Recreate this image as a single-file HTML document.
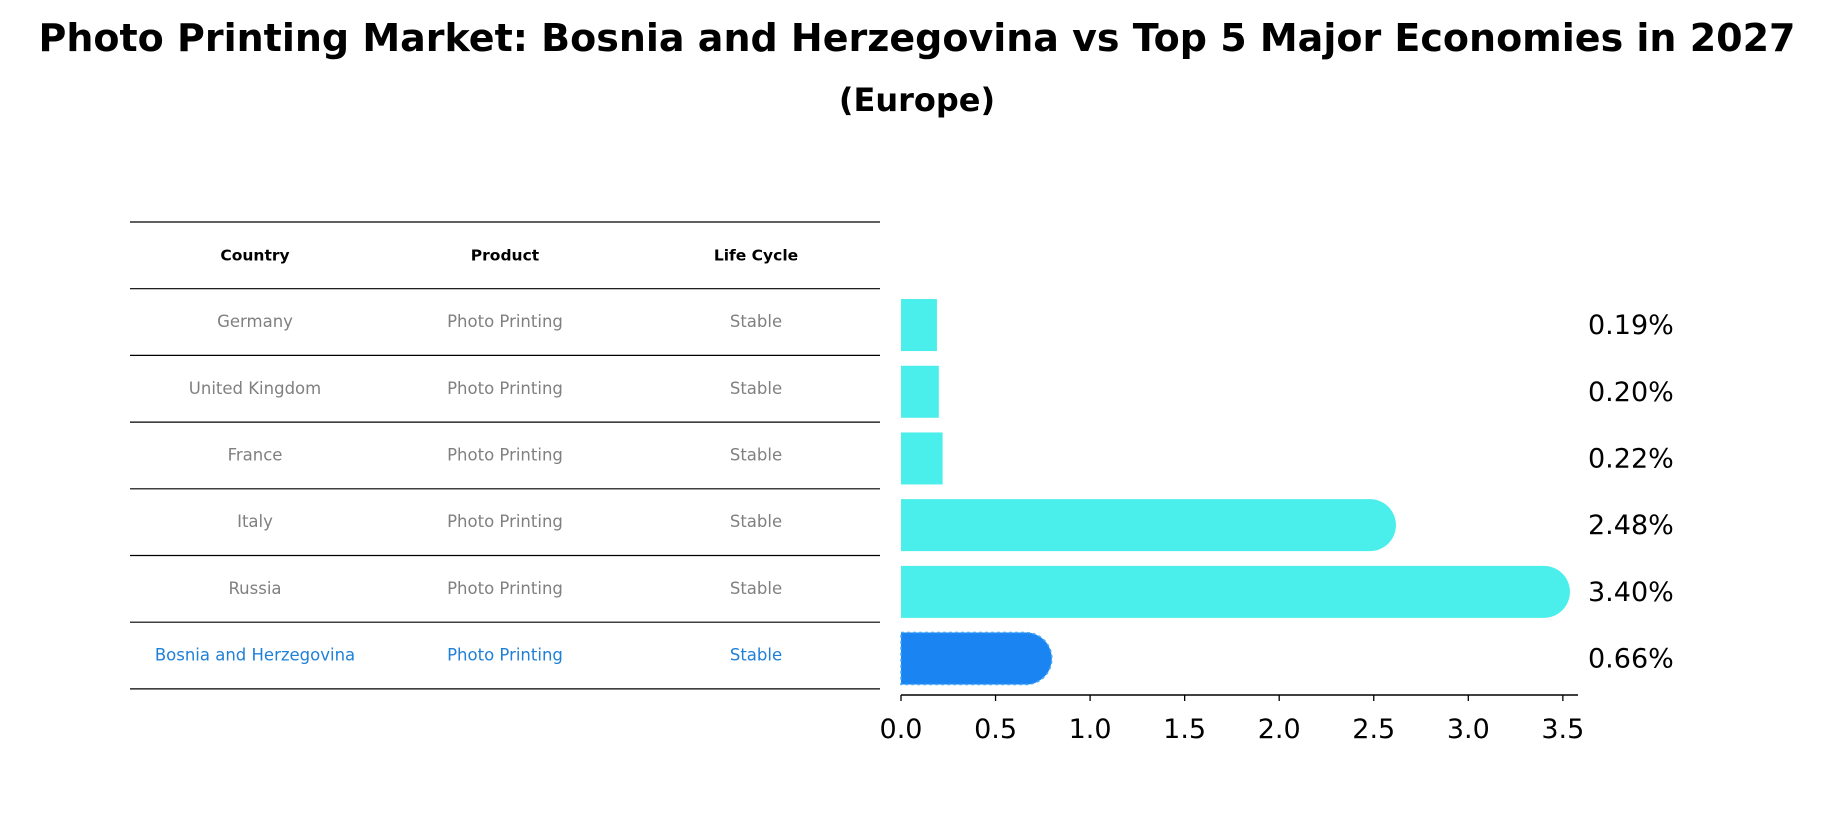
<!DOCTYPE html>
<html><head><meta charset="utf-8"><style>
body{margin:0;background:#fff;}
svg text{font-family:"DejaVu Sans","Liberation Sans",sans-serif;}
</style></head><body>
<svg width="1835" height="823" viewBox="0 0 1835 823" xmlns="http://www.w3.org/2000/svg">
<text x="917" y="51" text-anchor="middle" font-size="38" font-weight="bold">Photo Printing Market: Bosnia and Herzegovina vs Top 5 Major Economies in 2027</text>
<text x="917" y="111" text-anchor="middle" font-size="32" font-weight="bold">(Europe)</text>
<g id="table"></g>
<g id="bars"></g>
</svg>
<script>
const countries=["Germany","United Kingdom","France","Italy","Russia","Bosnia and Herzegovina"];
const products=["Photo Printing","Photo Printing","Photo Printing","Photo Printing","Photo Printing","Photo Printing"];
const lifeCycles=["Stable","Stable","Stable","Stable","Stable","Stable"];
const values=[0.19,0.20,0.22,2.48,3.40,0.66];
const labels=["0.19%","0.20%","0.22%","2.48%","3.40%","0.66%"];
const ticks=[0,0.5,1.0,1.5,2.0,2.5,3.0,3.5];
const NS="http://www.w3.org/2000/svg";
function mk(tag,attrs,parent,txt){const e=document.createElementNS(NS,tag);for(const k in attrs)e.setAttribute(k,attrs[k]);if(txt!==undefined)e.textContent=txt;parent.appendChild(e);return e;}
const tbl=document.getElementById('table');
const rowTop=222,rowH=66.7,colX=[255,505,756];
function ry(i){return rowTop+rowH*(i+1.5);}
for(let i=0;i<=countries.length+1;i++){
  const l=mk('line',{x1:130,x2:880,y1:rowTop+rowH*i,y2:rowTop+rowH*i,stroke:'#000','stroke-width':1.2},tbl);
  
  
}
const hdr=["Country","Product","Life Cycle"];
hdr.forEach((h,j)=>{const t=mk('text',{x:colX[j],y:rowTop+rowH*0.5+5,'text-anchor':'middle','font-size':15.5,'font-weight':'bold'},tbl,h);

});
countries.forEach((c,i)=>{const last=i===countries.length-1;const col=last?'#1f80d8':'#808080';
[c,products[i],lifeCycles[i]].forEach((v,j)=>{const t=mk('text',{x:colX[j],y:ry(i)+5,'text-anchor':'middle','font-size':16.5,fill:col},tbl,v);

});});
const g=document.getElementById('bars');
const x0=901,unit=189.1,axY=695,bh=52;
function xs(v){return x0+v*unit;}
values.forEach((v,i)=>{const y=ry(i)+3,last=i===values.length-1;const col=last?'#1a85f2':'#4aeeea';
 let el;
 if(v>0.5){const r=bh/2,xe=xs(v);
  el=mk('path',{d:`M${x0},${y-r} H${xe} A${r},${r} 0 0 1 ${xe},${y+r} H${x0} Z`,fill:col},g);
 }else{el=mk('rect',{x:x0,y:y-bh/2,width:xs(v)-x0,height:bh,fill:col},g);}
 if(last){el.setAttribute('stroke','#4aa8f8');el.setAttribute('stroke-dasharray','3,3');el.setAttribute('stroke-width','1.5');}
 
 
 const t=mk('text',{x:1588,y:y+9,'font-size':27},g,labels[i]);
 
 
});
const ax=mk('line',{x1:x0,x2:1578,y1:axY,y2:axY,stroke:'#000','stroke-width':1.5},g);


ticks.forEach(t=>{const l=mk('line',{x1:xs(t),x2:xs(t),y1:axY,y2:axY+6,stroke:'#000','stroke-width':1.3},g);


const tx=mk('text',{x:xs(t),y:738,'text-anchor':'middle','font-size':27},g,t.toFixed(1));

});
</script>
</body></html>
